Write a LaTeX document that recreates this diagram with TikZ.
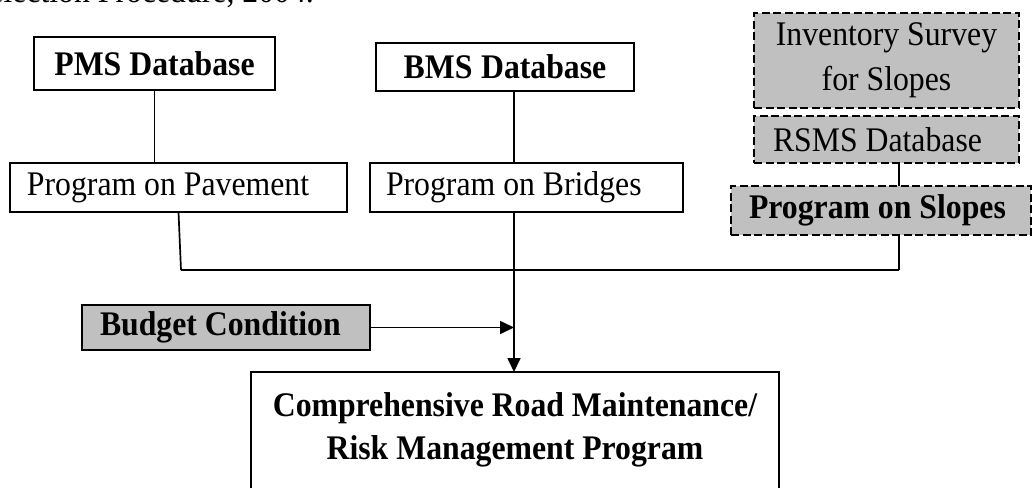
\documentclass[tikz,border=0pt]{standalone}
\usepackage{fontspec}
\setmainfont{Liberation Serif}[FakeStretch=0.92]
\usetikzlibrary{arrows.meta}
\definecolor{boxgray}{RGB}{192,192,192}
\newcommand{\chartfont}{\fontsize{34.5}{44}\selectfont}
\tikzset{
  every node/.style={font=\chartfont, execute at begin node={\spaceskip=0pt\xspaceskip=0pt}},
  box/.style={draw, line width=1.8pt, anchor=north west, inner ysep=0pt, outer sep=0pt},
  boldtext/.style={font=\chartfont\bfseries},
  grayfill/.style={fill=boxgray},
  dashedbox/.style={dash pattern=on 8pt off 3.5pt},
  link/.style={line width=1.7pt},
  arrowlink/.style={link, -{Triangle[length=14pt,width=13pt]}},
}
\begin{document}
\begin{tikzpicture}[x=1pt,y=-1pt]
  \clip (0,0) rectangle (1033,488);
  \useasboundingbox (0,0) rectangle (1033,488);

  % caption line of the page above the chart
  \node[anchor=base east, inner sep=0pt] (src) at (314,2) {Selection Procedure, 2004.};

  % databases
  \node[box, boldtext, text width=205pt, inner xsep=18pt, minimum height=53pt, align=center] (pms) at (34,37) {PMS Database};
  \node[box, boldtext, text width=226pt, inner xsep=16pt, minimum height=48pt, align=center] (bms) at (376,43) {BMS Database};
  \node[box, grayfill, dashedbox, text width=229pt, inner xsep=18pt, minimum height=95pt,
        align=center, font=\fontsize{34.5}{45}\selectfont] (inv) at (754,13)
        {\mbox{Inventory Survey}\\\mbox{for Slopes}};
  \node[box, grayfill, dashedbox, text width=227pt, inner xsep=19pt, minimum height=47pt,
        align=left] (rsms) at (754,116) {RSMS Database};

  % programs
  \node[box, text width=303pt, inner xsep=17pt, minimum height=49pt, align=left] (pave) at (10,163) {Program on Pavement};
  \node[box, text width=281pt, inner xsep=16pt, minimum height=49pt, align=left] (bridges) at (370,163) {Program on Bridges};
  \node[box, boldtext, grayfill, dashedbox, text width=264pt, inner xsep=18pt, minimum height=49pt,
        align=left] (slopes) at (731,186) {Program on Slopes};

  % budget
  \node[box, boldtext, grayfill, text width=252pt, inner xsep=18pt, minimum height=45pt, align=left] (budget) at (82,305) {Budget Condition};

  % final program (box continues below the page edge)
  \node[anchor=north, text width=500pt, inner xsep=14pt, inner ysep=0pt, minimum height=116pt,
        align=center, outer sep=0pt, font=\fontsize{34.5}{43}\selectfont\bfseries] (crm) at (515,372)
        {\mbox{Comprehensive Road Maintenance/}\\\mbox{Risk Management Program}};
  \draw[link, line width=1.8pt] (crm.south west) -- (crm.north west) -- (crm.north east) -- (crm.south east);

  % connector points
  \coordinate (trunk) at (514,270);
  \coordinate (busL) at (181,270);
  \coordinate (busR) at (899,270);

  % connectors
  \draw[link] (pms.south) -- (pms.south |- pave.north);
  \draw[link] (bms.south -| trunk) -- (bridges.north -| trunk);
  \draw[link] (rsms.south -| busR) -- (slopes.north -| busR);
  \draw[link] (pave.south) -- (busL);
  \draw[link] (busL) -- (busR);
  \draw[link] (slopes.south -| busR) -- (busR);
  \draw[arrowlink] (bridges.south -| trunk) -- (crm.north -| trunk);
  \draw[arrowlink] (budget.east) -- (budget.east -| trunk);
\end{tikzpicture}
\end{document}
